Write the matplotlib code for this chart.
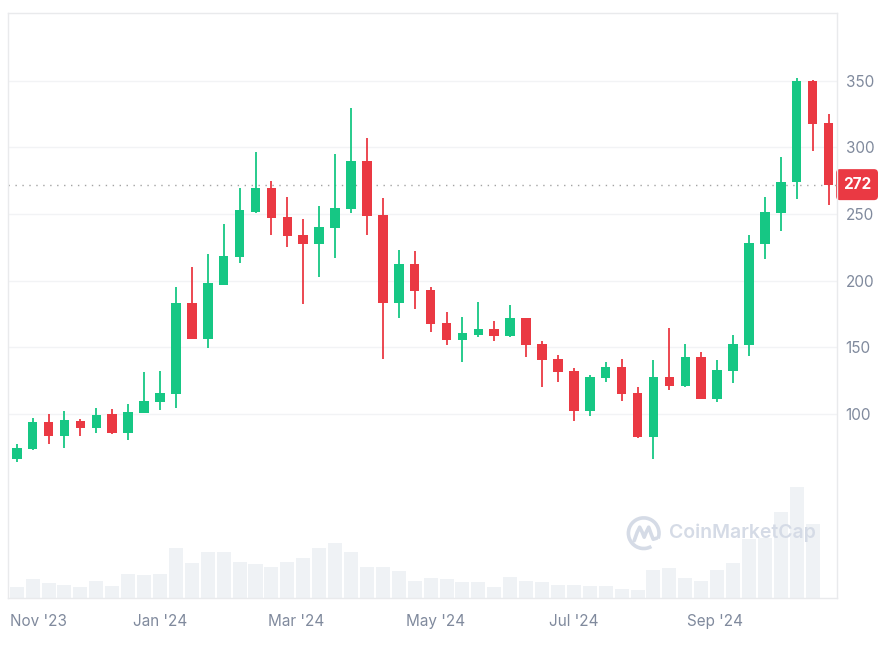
"""Weekly candlestick chart with volume bars, CoinMarketCap style (Nov 2023 - Oct 2024)."""

import matplotlib
matplotlib.use("Agg")
import matplotlib.pyplot as plt
import matplotlib.dates as mdates
import matplotlib.transforms as mtransforms
from matplotlib.patches import FancyBboxPatch, Arc
import numpy as np
import pandas as pd

# ════════════════════════════════════════════════════════════════════════════
# DATA (weekly candles)
# ════════════════════════════════════════════════════════════════════════════

WEEK_START = "2023-10-30"

opens = [66.6, 73.7, 93.9, 83.7, 94.7, 89.9, 99.9, 85.9, 101.1, 109.1,
         115.1, 183.1, 156.6, 197.1, 217.6, 251.6, 269.8, 247.8, 234.3, 227.8,
         239.6, 254.0, 290.0, 249.6, 183.1, 212.4, 193.1, 168.6, 155.8, 159.6,
         163.6, 158.6, 171.9, 152.6, 141.6, 132.4, 102.2, 127.4, 135.2, 115.9,
         82.9, 127.9, 121.4, 143.1, 111.4, 132.6, 151.9, 227.8, 250.8, 274.0,
         349.8, 318.5]
highs = [77.4, 96.9, 99.9, 102.6, 96.6, 104.9, 103.7, 107.9, 131.4, 132.4,
         195.4, 210.3, 220.1, 242.6, 269.8, 296.6, 275.0, 262.8, 246.6, 255.8,
         295.1, 329.5, 307.3, 261.8, 223.1, 222.1, 195.1, 176.8, 172.9, 183.9,
         169.9, 181.9, 172.4, 154.6, 144.4, 134.4, 129.2, 139.4, 141.4, 120.2,
         140.4, 164.4, 152.4, 146.4, 140.4, 159.6, 234.3, 262.8, 293.0, 351.8,
         350.5, 324.8]
lows = [64.4, 73.0, 77.7, 74.7, 83.7, 85.9, 85.5, 80.7, 100.8, 102.9,
        104.9, 156.0, 149.6, 196.5, 213.3, 251.0, 234.6, 225.6, 182.8, 203.1,
        217.3, 250.6, 234.6, 141.6, 171.9, 178.9, 161.8, 151.6, 139.4, 158.0,
        154.6, 158.0, 142.7, 120.4, 124.4, 94.9, 98.9, 124.4, 110.1, 82.5,
        66.6, 118.1, 120.2, 111.0, 109.4, 123.4, 143.6, 216.3, 237.6, 261.1,
        297.3, 256.8]
closes = [74.4, 93.9, 83.7, 95.7, 89.9, 99.6, 85.9, 101.6, 109.7, 116.1,
          183.1, 156.6, 198.1, 218.6, 252.8, 269.8, 246.9, 233.6, 227.8, 240.6,
          254.6, 290.0, 248.8, 183.1, 212.4, 192.4, 167.8, 155.8, 160.6, 163.6,
          158.6, 171.9, 151.6, 140.6, 131.6, 102.2, 128.1, 135.2, 115.1, 82.9,
          127.9, 121.4, 143.1, 111.4, 133.1, 152.4, 228.1, 251.3, 273.8, 349.8,
          317.8, 272.0]
# relative weekly volume (last, unfinished week has no bar)
volumes = [11.0, 19.3, 15.3, 13.7, 11.0, 17.7, 12.3, 24.7, 23.3, 24.7,
           50.3, 35.3, 46.3, 46.3, 36.7, 34.3, 31.3, 36.7, 40.7, 50.3,
           55.7, 46.3, 31.3, 31.3, 27.3, 17.7, 20.3, 19.3, 16.3, 16.3,
           11.0, 21.7, 17.7, 16.3, 13.7, 13.7, 12.3, 12.3, 9.7, 8.3,
           28.7, 30.0, 20.3, 17.7, 28.7, 35.3, 59.0, 60.0, 86.7, 111.0,
           74.3, np.nan]

last_price = 272
price_ticks = [100, 150, 200, 250, 300, 350]
month_ticks = ["2023-11-01", "2024-01-01", "2024-03-01", "2024-05-01", "2024-07-01", "2024-09-01"]
month_labels = ["Nov '23", "Jan '24", "Mar '24", "May '24", "Jul '24", "Sep '24"]

# ════════════════════════════════════════════════════════════════════════════
# STYLE
# ════════════════════════════════════════════════════════════════════════════

UP = "#16c784"
DOWN = "#ea3943"
VOL_COLOR = "#eff2f5"
GRID_COLOR = "#f2f3f5"
FRAME_COLOR = "#e9eaec"
LABEL_COLOR = "#808a9d"
WATERMARK = "#d5dbe6"

plt.rcParams["font.family"] = ["Inter", "DejaVu Sans"]

W, H = 886, 651
fig = plt.figure(figsize=(W / 100, H / 100), dpi=100)
fig.patch.set_facecolor("white")

# plot box in image pixels
left_px, right_px, top_px, bottom_px = 8.3, 837.3, 12.5, 598.3
rect = [left_px / W, (H - bottom_px) / H, (right_px - left_px) / W, (bottom_px - top_px) / H]

vol_ax = fig.add_axes(rect, zorder=0)
wm_ax = fig.add_axes([0, 0, 1, 1], zorder=1)
ax = fig.add_axes(rect, zorder=2)
ax.patch.set_visible(False)

dates = pd.date_range(WEEK_START, periods=len(opens), freq="7D")
x = mdates.date2num(dates)
o, h, l, c = map(np.array, (opens, highs, lows, closes))
vol = np.array(volumes)

xlim = (x[0] - 0.53 * 7, x[0] + 51.55 * 7)

# ── volume ──────────────────────────────────────────────────────────────────
has_vol = ~np.isnan(vol)
vol_ax.bar(x[has_vol], vol[has_vol], width=7 * 0.88, color=VOL_COLOR, linewidth=0)
vol_ax.set_xlim(xlim)
vol_ax.set_ylim(0, np.nanmax(vol) / 0.1895)
vol_ax.axis("off")

# ── candles ─────────────────────────────────────────────────────────────────
colors = np.where(c >= o, UP, DOWN)
ax.vlines(x, l, h, colors=colors, linewidth=1.3, zorder=3)
ax.bar(x, np.abs(c - o), bottom=np.minimum(o, c), width=7 * 0.6,
       color=colors, linewidth=0, zorder=4)

ax.axhline(last_price, color="#a3a3a3", linewidth=1, linestyle=(0, (1, 4)), zorder=2)

ax.set_xlim(xlim)
ax.set_ylim(-38, 401)
ax.set_yticks(price_ticks)
ax.yaxis.tick_right()
ax.grid(axis="y", color=GRID_COLOR, linewidth=1)
ax.set_axisbelow(True)
ax.tick_params(axis="y", length=0, pad=6, labelsize=11, labelcolor=LABEL_COLOR)

ax.set_xticks(mdates.date2num(pd.to_datetime(month_ticks)))
ax.set_xticklabels(month_labels)
ax.tick_params(axis="x", length=0, pad=11, labelsize=11, labelcolor=LABEL_COLOR)
first = ax.get_xticklabels()[0]
first.set_horizontalalignment("left")
first.set_transform(first.get_transform() + mtransforms.ScaledTranslation(-11.3 / 100, 0, fig.dpi_scale_trans))

for side in ["top", "bottom", "left", "right"]:
    ax.spines[side].set_color(FRAME_COLOR)
    ax.spines[side].set_linewidth(1)

# ── watermark + price tag (image pixel coordinates) ─────────────────────────
wm_ax.set_xlim(0, W)
wm_ax.set_ylim(H, 0)
wm_ax.axis("off")

cx, cy, r = 643.7, 533.2, 15.3
wm_ax.add_patch(Arc((cx, cy), 2 * r, 2 * r, theta1=60, theta2=20, color=WATERMARK, linewidth=2.6))
wave_x = cx + np.array([-9.5, -6.5, -4, -1.5, 0.5, 2.5, 5, 7.5, 9.5, 13])
wave_y = cy + np.array([7.5, -1, -6, -1, 4, -1, -6, 1, 6, 5])
wm_ax.plot(wave_x, wave_y, color=WATERMARK, linewidth=2.6, solid_capstyle="round", solid_joinstyle="round")
wm_ax.text(669, cy, "CoinMarketCap", color=WATERMARK, fontsize=14, fontweight="semibold",
           ha="left", va="center")

tag_y = H - ax.transData.transform((x[-1], last_price))[1]
wm_ax.add_patch(FancyBboxPatch((836, tag_y - 15.5), 42, 31,
                               boxstyle="round,pad=0,rounding_size=4",
                               facecolor=DOWN, edgecolor="none", zorder=5))
wm_ax.text(857, tag_y, f"{last_price}", color="white", fontsize=11, fontweight="bold",
           ha="center", va="center", zorder=6)

fig.savefig("out.png", dpi=100, facecolor="white")
plt.close(fig)
